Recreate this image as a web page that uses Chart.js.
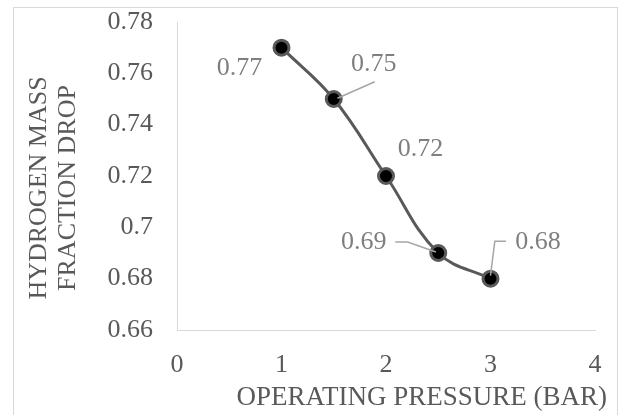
<!DOCTYPE html>
<html><head><meta charset="utf-8">
<script src="https://cdn.jsdelivr.net/npm/chart.js@4/dist/chart.umd.min.js"></script>
<style>html,body{margin:0;padding:0;background:#fff;} #wrap{width:622px;height:415px;position:relative;}</style>
</head><body><div id="wrap"><canvas id="c" width="622" height="415"></canvas></div>
<script>
// ---- data ----
const pressure = [1, 1.5, 2, 2.5, 3];
const massFractionDrop = [0.77, 0.75, 0.72, 0.69, 0.68];
const dataLabels = ['0.77', '0.75', '0.72', '0.69', '0.68'];
const xTicks = [0, 1, 2, 3, 4];
const yTicks = [0.66, 0.68, 0.70, 0.72, 0.74, 0.76, 0.78];
const xTitle = 'OPERATING PRESSURE (BAR)';
const yTitle = ['HYDROGEN MASS', 'FRACTION DROP'];

// ---- label placement (pixel offsets from each point) ----
const labelOffsets = [[-42, 21], [40, -35], [34.5, -27], [-74.5, -11], [47.5, -36]];
const leaderPaths = [null, [[3.7, -0.7], [41, -17.3]], null, [[-43, -11], [-30.7, -11], [-2.3, -1]], [[0, -3], [4.3, -37.3], [15.6, -37.3]]];

const FONT = "'Liberation Serif', 'Times New Roman', serif";
const TICK_COLOR = '#595959';

const extras = {
  id: 'extras',
  beforeDraw(chart) {
    const ctx = chart.ctx;
    ctx.save();
    ctx.strokeStyle = '#d9d9d9';
    ctx.lineWidth = 1;
    ctx.strokeRect(13.5, 7.5, 604, 420);
    ctx.restore();
  },
  afterDraw(chart) {
    const ctx = chart.ctx;
    const area = chart.chartArea;
    ctx.save();
    ctx.fillStyle = TICK_COLOR;
    ctx.font = '27px ' + FONT;
    ctx.textBaseline = 'middle';
    ctx.textAlign = 'right';
    ctx.fillText(xTitle, area.right + 12, area.bottom + 68);
    ctx.save();
    ctx.font = '26px ' + FONT;
    ctx.translate(0, (area.top + area.bottom) / 2 + 12);
    ctx.rotate(-Math.PI / 2);
    ctx.textAlign = 'center';
    ctx.fillText(yTitle[0], 0, 38.7);
    ctx.fillText(yTitle[1], 0, 68.3);
    ctx.restore();
    const meta = chart.getDatasetMeta(0);
    ctx.font = '26px ' + FONT;
    ctx.textAlign = 'center';
    ctx.fillStyle = '#7f7f7f';
    ctx.strokeStyle = '#a6a6a6';
    ctx.lineWidth = 1.5;
    meta.data.forEach((pt, i) => {
      const path = leaderPaths[i];
      if (path) {
        ctx.beginPath();
        path.forEach((p, j) => { j ? ctx.lineTo(pt.x + p[0], pt.y + p[1]) : ctx.moveTo(pt.x + p[0], pt.y + p[1]); });
        ctx.stroke();
      }
      const o = labelOffsets[i];
      ctx.fillText(dataLabels[i], pt.x + o[0], pt.y + o[1]);
    });
    ctx.restore();
  }
};

new Chart(document.getElementById('c'), {
  type: 'scatter',
  data: {
    datasets: [{
      data: pressure.map((x, i) => ({ x, y: massFractionDrop[i] })),
      showLine: true,
      tension: 0.4,
      borderColor: '#595959',
      borderWidth: 3,
      pointRadius: 7.5,
      pointBorderWidth: 3,
      pointBackgroundColor: '#000000',
      pointBorderColor: '#595959',
      clip: false
    }]
  },
  options: {
    responsive: false,
    animation: false,
    devicePixelRatio: 1,
    layout: { padding: { top: 22, right: 27, left: 0, bottom: 0 } },
    plugins: { legend: { display: false }, tooltip: { enabled: false } },
    scales: {
      x: {
        type: 'linear', min: 0, max: 4,
        afterBuildTicks: s => { s.ticks = xTicks.map(v => ({ value: v })); },
        afterFit: s => { s.height = 85; s.paddingLeft = 0; s.paddingRight = 0; },
        grid: { display: false, drawTicks: false },
        border: { display: true, color: '#d9d9d9', width: 1 },
        ticks: { color: TICK_COLOR, font: { family: FONT, size: 26 }, padding: 20, maxRotation: 0 }
      },
      y: {
        type: 'linear', min: 0.66, max: 0.78,
        afterBuildTicks: s => { s.ticks = yTicks.map(v => ({ value: v })); },
        afterFit: s => { s.width = 177; s.paddingTop = 0; s.paddingBottom = 0; },
        grid: { display: false, drawTicks: false },
        border: { display: true, color: '#d9d9d9', width: 1 },
        ticks: { color: TICK_COLOR, font: { family: FONT, size: 26 }, padding: 24,
          callback: v => String(Number(v.toFixed(2))) }
      }
    }
  },
  plugins: [extras]
});
</script>
</body></html>
